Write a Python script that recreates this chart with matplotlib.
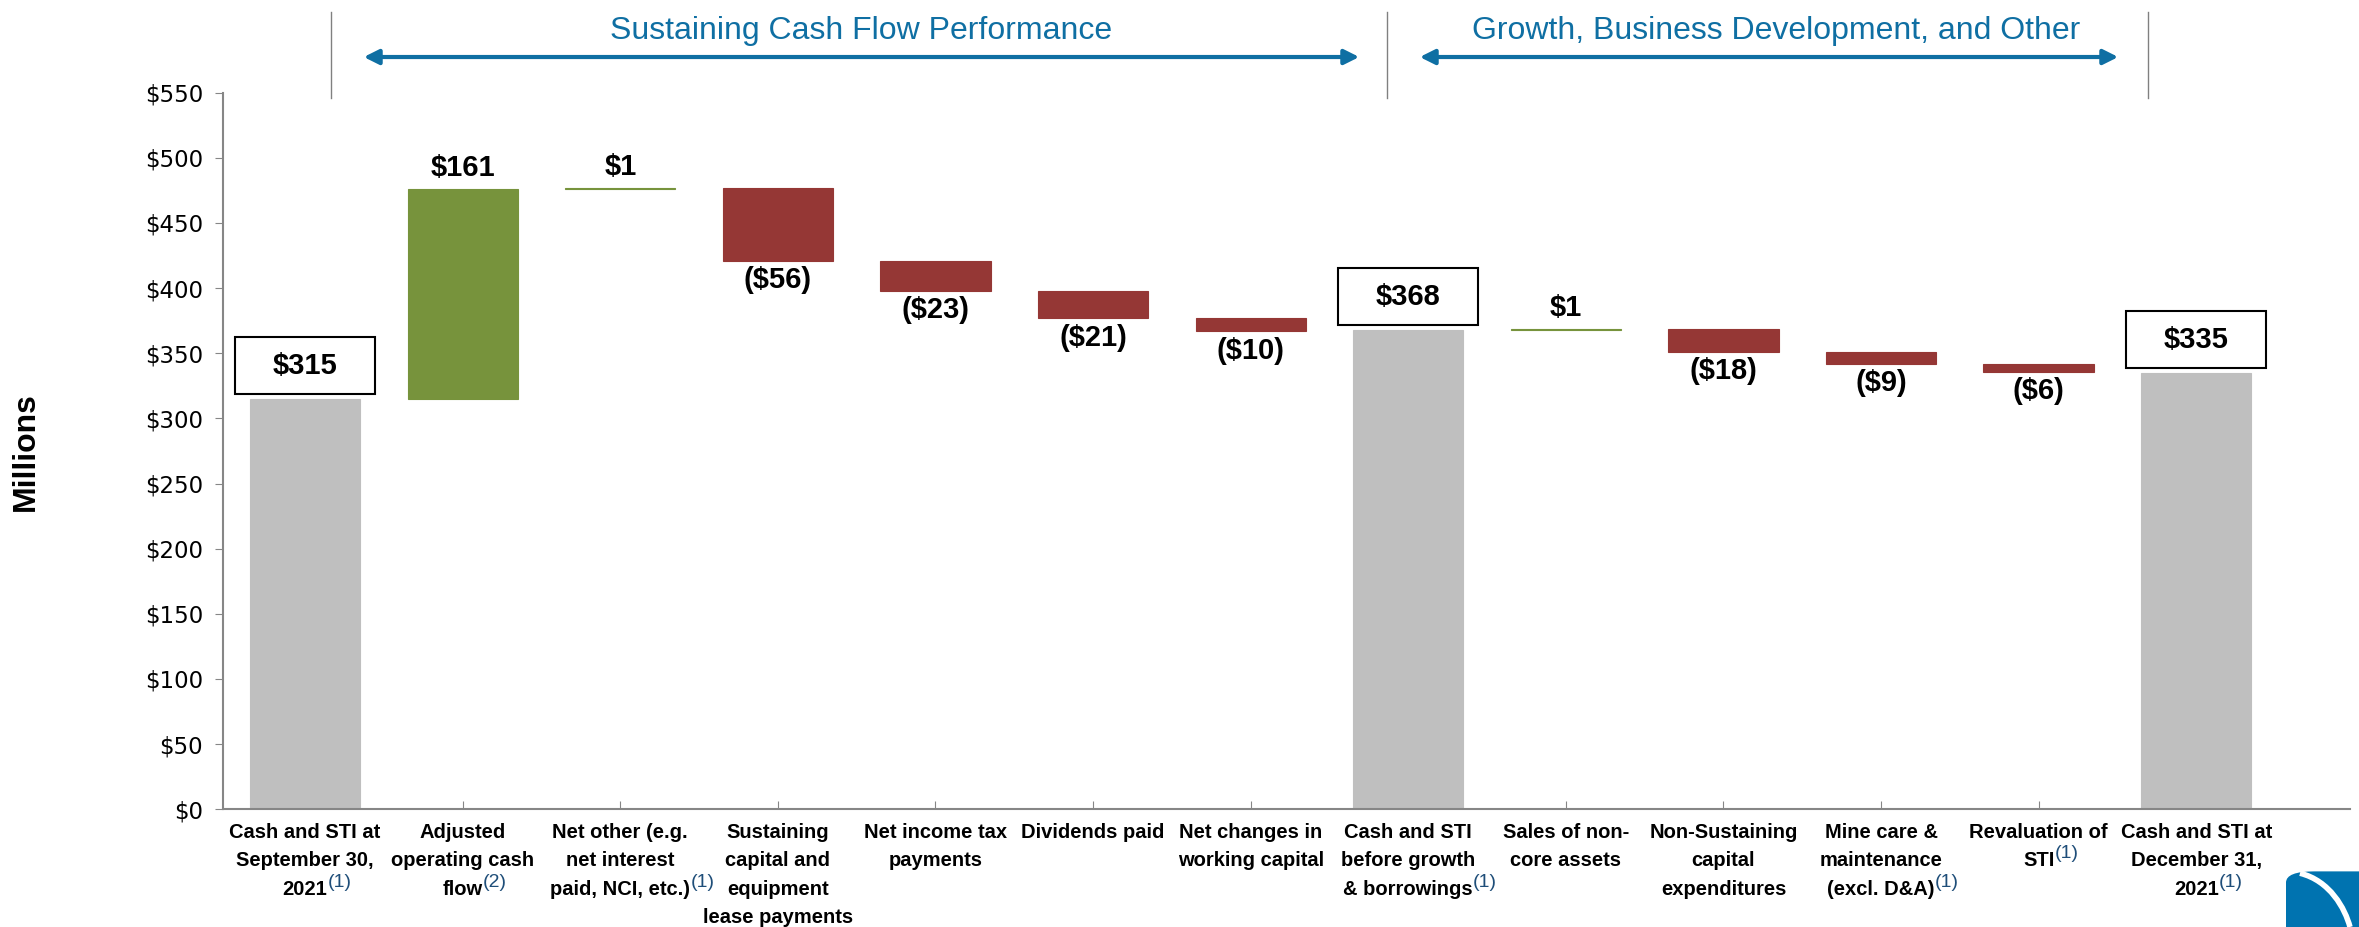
import matplotlib.pyplot as plt
from matplotlib.patches import Rectangle, FancyArrowPatch, FancyBboxPatch, PathPatch
from matplotlib.path import Path
from matplotlib.transforms import blended_transform_factory

# dane do wykresu kaskadowego (mln USD)
kategorie = [
    'Cash and STI at\nSeptember 30,\n2021',
    'Adjusted\noperating cash\nflow',
    'Net other (e.g.\nnet interest\npaid, NCI, etc.)',
    'Sustaining\ncapital and\nequipment\nlease payments',
    'Net income tax\npayments',
    'Dividends paid',
    'Net changes in\nworking capital',
    'Cash and STI\nbefore growth\n& borrowings',
    'Sales of non-\ncore assets',
    'Non-Sustaining\ncapital\nexpenditures',
    'Mine care &\nmaintenance\n(excl. D&A)',
    'Revaluation of\nSTI',
    'Cash and STI at\nDecember 31,\n2021',
]
przypisy = ['(1)', '(2)', '(1)', '', '', '', '', '(1)', '', '', '(1)', '(1)', '(1)']
rodzaj = ['suma', 'zmiana', 'zmiana', 'zmiana', 'zmiana', 'zmiana', 'zmiana',
          'suma', 'zmiana', 'zmiana', 'zmiana', 'zmiana', 'suma']
wartosci = [315, 161, 1, -56, -23, -21, -10, 368, 1, -18, -9, -6, 335]
y_ticki = [0, 50, 100, 150, 200, 250, 300, 350, 400, 450, 500, 550]

SZARY = '#BFBFBF'
ZIELONY = '#77933C'
CZERWONY = '#953735'
NIEBIESKI = '#0F6FA3'
WAZKI = ['Liberation Sans Narrow', 'Liberation Sans', 'DejaVu Sans']

# policzenie podstaw i wysokości słupków
podstawy, wysokosci, kolory = [], [], []
biezaca = 0
for v, r in zip(wartosci, rodzaj):
    if r == 'suma':
        podstawy.append(0)
        wysokosci.append(v)
        kolory.append(SZARY)
        biezaca = v
    else:
        if v >= 0:
            podstawy.append(biezaca)
            kolory.append(ZIELONY)
        else:
            podstawy.append(biezaca + v)
            kolory.append(CZERWONY)
        wysokosci.append(abs(v))
        biezaca += v

fig = plt.figure(figsize=(23.59, 9.27), dpi=100)
ax = fig.add_axes([0.0944, 0.127, 0.9016, 0.773])

x = list(range(len(kategorie)))
ax.bar(x, wysokosci, bottom=podstawy, width=0.7, color=kolory,
       edgecolor=kolory, linewidth=0.8, zorder=2)

ax.set_xlim(-0.523, 12.973)
ax.set_ylim(0, 550)
ax.set_yticks(y_ticki)
ax.set_yticklabels(['$' + str(t) for t in y_ticki], fontsize=16.5, family='DejaVu Sans')
ax.set_xticks(x)
ax.set_xticklabels([])
ax.tick_params(axis='x', direction='in', length=6, color='#868686')
ax.tick_params(axis='y', direction='out', length=6, color='#868686', pad=8)
for s in ['top', 'right']:
    ax.spines[s].set_visible(False)
for s in ['left', 'bottom']:
    ax.spines[s].set_color('#868686')
    ax.spines[s].set_linewidth(1.5)

# etykiety wartości
for i, (v, r) in enumerate(zip(wartosci, rodzaj)):
    gora = podstawy[i] + wysokosci[i]
    if r == 'suma':
        ax.add_patch(Rectangle((i - 0.445, gora + 3.5), 0.89, 43.8, fc='white',
                               ec='black', lw=1.5, zorder=3))
        ax.text(i, gora + 3.5 + 21.9, '$' + str(v), ha='center', va='center',
                fontsize=21, fontweight='bold', family=WAZKI, zorder=4)
    elif v >= 0:
        ax.annotate('$' + str(v), (i, gora), xytext=(0, 15), textcoords='offset points',
                    ha='center', va='center', fontsize=21, fontweight='bold', family=WAZKI)
    else:
        ax.annotate('($' + str(-v) + ')', (i, podstawy[i]), xytext=(0, -14),
                    textcoords='offset points', ha='center', va='center',
                    fontsize=21, fontweight='bold', family=WAZKI)

# podpisy kategorii (każda linia osobno, żeby dokleić przypis)
y0 = 1 - 832 / 927
krok = 28.6 / 927
tr = blended_transform_factory(ax.transData, fig.transFigure)
for i, kat in enumerate(kategorie):
    linie = kat.split('\n')
    ostatni = None
    for j, linia in enumerate(linie):
        ostatni = fig.text(i, y0 - j * krok, linia, ha='center', va='center',
                           fontsize=14.5, fontweight='bold', family=WAZKI, transform=tr)
    if przypisy[i]:
        ax.annotate(przypisy[i], xy=(1, 1.3), xycoords=ostatni, ha='left', va='top',
                    fontsize=14, color='#1F4E79', family=WAZKI, annotation_clip=False)

fig.text(0.011, 0.513, 'Millions', rotation=90, ha='center', va='center',
         fontsize=23, fontweight='bold', family=WAZKI)

# nagłówki sekcji
for xl in [331, 1387, 2148]:
    fig.add_artist(plt.Line2D([xl / 2359, xl / 2359], [1 - 12 / 927, 1 - 98 / 927],
                              color='#808080', lw=1))
for x_a, x_b in [(361, 1362), (1417, 2121)]:
    fig.add_artist(FancyArrowPatch((x_a / 2359, 0.9385), (x_b / 2359, 0.9385),
                                   transform=fig.transFigure, arrowstyle='<|-|>',
                                   mutation_scale=22, lw=3, color=NIEBIESKI))
fig.text(0.3648, 0.967, 'Sustaining Cash Flow Performance', ha='center', va='center',
         fontsize=23, color=NIEBIESKI, family=WAZKI)
fig.text(0.7528, 0.967, 'Growth, Business Development, and Other', ha='center', va='center',
         fontsize=23, color=NIEBIESKI, family=WAZKI)

# fragment logo w rogu
fig.add_artist(FancyBboxPatch((2286 / 2359, -0.03), 0.06, 0.09, transform=fig.transFigure,
                              boxstyle='round,pad=0,rounding_size=0.012', fc='#0073B0', ec='none'))
luk = Path([(2300 / 2359, 0.058), (2330 / 2359, 0.05), (2345 / 2359, 0.02), (2350 / 2359, 0.0)],
           [Path.MOVETO, Path.CURVE4, Path.CURVE4, Path.CURVE4])
fig.add_artist(PathPatch(luk, transform=fig.transFigure, fc='none', ec='white', lw=4))

fig.savefig('out.png', dpi=100)
